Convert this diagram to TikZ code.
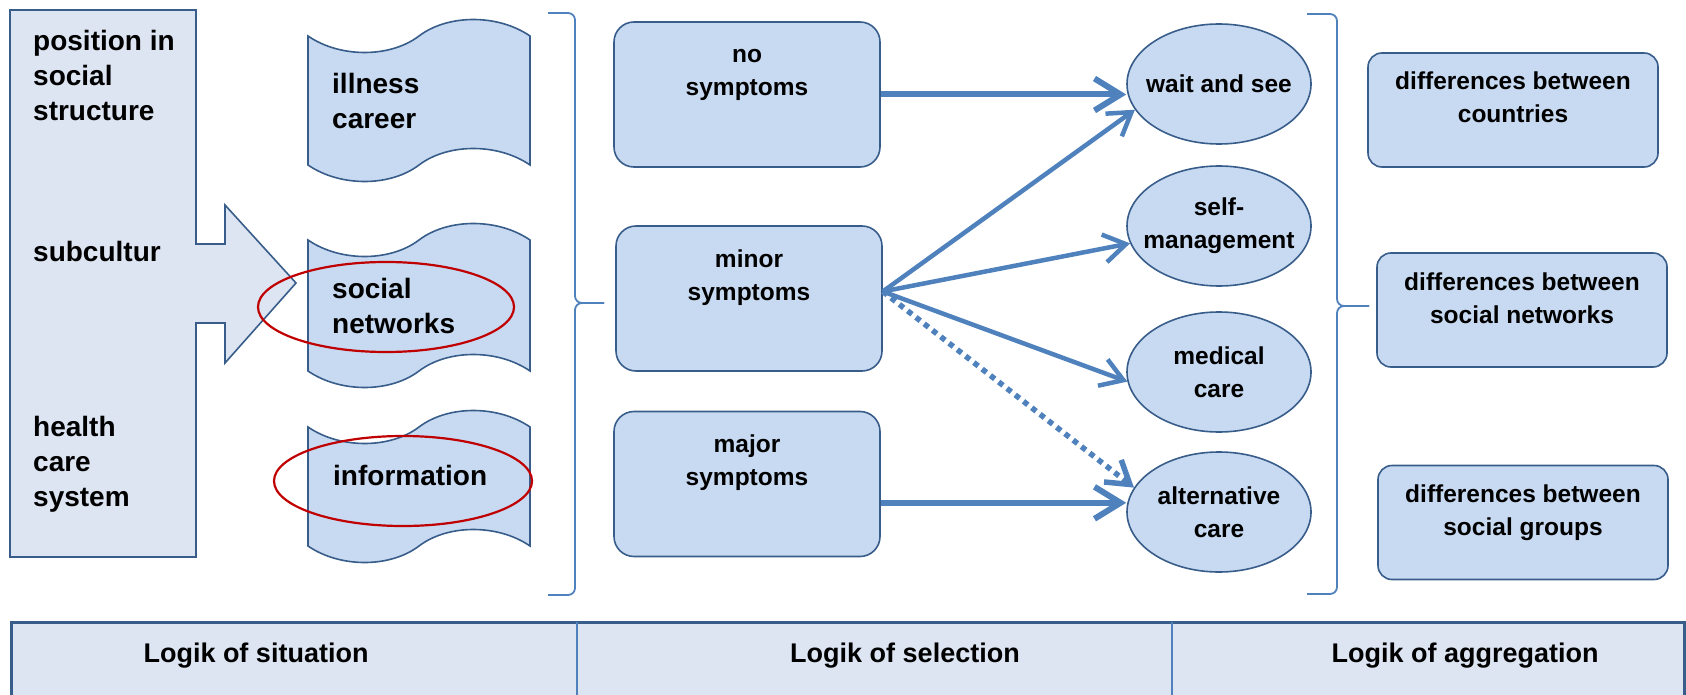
\documentclass[tikz,border=0pt]{standalone}
\usepackage{fontspec}
\setmainfont{Liberation Sans}
\usetikzlibrary{shapes.geometric,arrows.meta}
\definecolor{boxfill}{RGB}{200,218,241}
\definecolor{blockfill}{RGB}{221,229,242}
\definecolor{boxline}{RGB}{56,93,138}
\definecolor{flowblue}{RGB}{79,129,189}
\definecolor{ringred}{RGB}{192,0,0}
\newcommand\leftfont{\fontsize{28}{35}\selectfont\bfseries}
\newcommand\midfont{\fontsize{24.5}{33}\selectfont\bfseries}
\newcommand\tabfont{\fontsize{27}{33}\selectfont\bfseries}

\begin{document}
\begin{tikzpicture}[x=1pt,y=-1pt,
  midbox/.style={draw=boxline, fill=boxfill, line width=1.6pt, rounded corners=20pt, minimum width=266pt, minimum height=145pt, inner sep=0pt, align=center, font=\midfont, text height=36pt, text depth=33pt},
  sidebox/.style={draw=boxline, fill=boxfill, line width=1.6pt, rounded corners=14pt, minimum width=290pt, minimum height=114pt, inner sep=0pt, align=center, font=\midfont, text height=42pt, text depth=16pt},
  choice/.style={shape=ellipse, draw=boxline, fill=boxfill, line width=1.6pt, minimum width=184pt, minimum height=120pt, inner sep=-30pt, align=center, font=\midfont},
  lefttext/.style={anchor=base west, align=left, inner sep=0pt, font=\leftfont},
  tabtext/.style={anchor=base, inner sep=0pt, font=\tabfont},
  scrollpart/.style={draw=boxline, fill=boxfill, line width=1.6pt},
  ring/.style={draw=ringred, line width=2.2pt},
  brace/.style={draw=flowblue, line width=1.8pt, rounded corners=7pt},
  flow/.style={draw=flowblue, line width=6pt, -{Straight Barb[length=26pt,width=32pt]}},
  fan/.style={draw=flowblue, line width=4.5pt, -{Straight Barb[length=22pt,width=28pt]}},
  maybe/.style={fan, line width=5.5pt, dash pattern=on 5.5pt off 5pt}]
\useasboundingbox (0,0) rectangle (1686,695);

\draw[fill=blockfill, draw=boxline, line width=1.6pt] (10,10) -- (196,10) -- (196,244) -- (225,244) -- (225,205) -- (296,283) -- (225,363) -- (225,323) -- (196,323) -- (196,557) -- (10,557) -- cycle;
\node[lefttext] (pos) at (33,121) {position in\\social\\structure};
\node[lefttext] (subc) at (33,261) {subcultur};
\node[lefttext] (hcs) at (33,506) {health\\care\\system};

\foreach \t/\b in {36/165, 240/371, 427/546}
  \draw[scrollpart] (308,\t) .. controls (340,\t+22) and (390,\t+22) .. (419,\t) .. controls (448,\t-22) and (498,\t-22) .. (530,\t) -- (530,\b) .. controls (498,\b-22) and (448,\b-22) .. (419,\b) .. controls (390,\b+22) and (340,\b+22) .. (308,\b) -- cycle;
\node[lefttext] (ill) at (332,129) {illness\\career};
\node[lefttext] (soc) at (332,333) {social\\networks};
\node[lefttext] (inf) at (333,485) {information};

\draw[ring] (386,307) ellipse [x radius=128pt, y radius=45pt];
\draw[ring] (403,481) ellipse [x radius=129pt, y radius=45pt];

\draw[brace] (548,13) -- (575,13) -- (575,303) -- (604,303);
\draw[brace] (604,303) -- (575,303) -- (575,595) -- (548,595);

\node[midbox] (nosym) at (747,94.5) {no\\symptoms};
\node[midbox] (minor) at (749,298.5) {minor\\symptoms};
\node[midbox] (major) at (747,484) {major\\symptoms};

\node[choice] (wait) at (1219,84) {wait and see};
\node[choice] (selfm) at (1219,226) {self-\\management};
\node[choice] (medic) at (1219,372) {medical\\care};
\node[choice] (alt) at (1219,512) {alternative\\care};

\draw[brace] (1307,14) -- (1337,14) -- (1337,306) -- (1369,306);
\draw[brace] (1369,306) -- (1337,306) -- (1337,594) -- (1307,594);

\node[sidebox] (ctry) at (1513,110) {differences between\\countries};
\node[sidebox] (netw) at (1522,310) {differences between\\social networks};
\node[sidebox] (grps) at (1523,522.5) {differences between\\social groups};

\draw[flow] (nosym.east) -- (nosym.east -| wait.west);
\draw[fan] (minor.3) -- (wait.197);
\draw[fan] (minor.3) -- (selfm);
\draw[fan] (minor.3) -- (medic.186);
\draw[maybe] (minor.3) -- (alt.164);
\draw[flow] (major.-8) -- (major.-8 -| alt.west);

\fill[blockfill] (11,622) rectangle (1684,700);
\draw[boxline, line width=3pt] (11,700) -- (11,622) -- (1684,622) -- (1684,700);
\draw[flowblue, line width=1.2pt] (577,622) -- (577,700) (1172,622) -- (1172,700);
\node[tabtext] (sit) at (256,662) {Logik of situation};
\node[tabtext] (sel) at (905,662) {Logik of selection};
\node[tabtext] (agg) at (1465,662) {Logik of aggregation};
\end{tikzpicture}
\end{document}
